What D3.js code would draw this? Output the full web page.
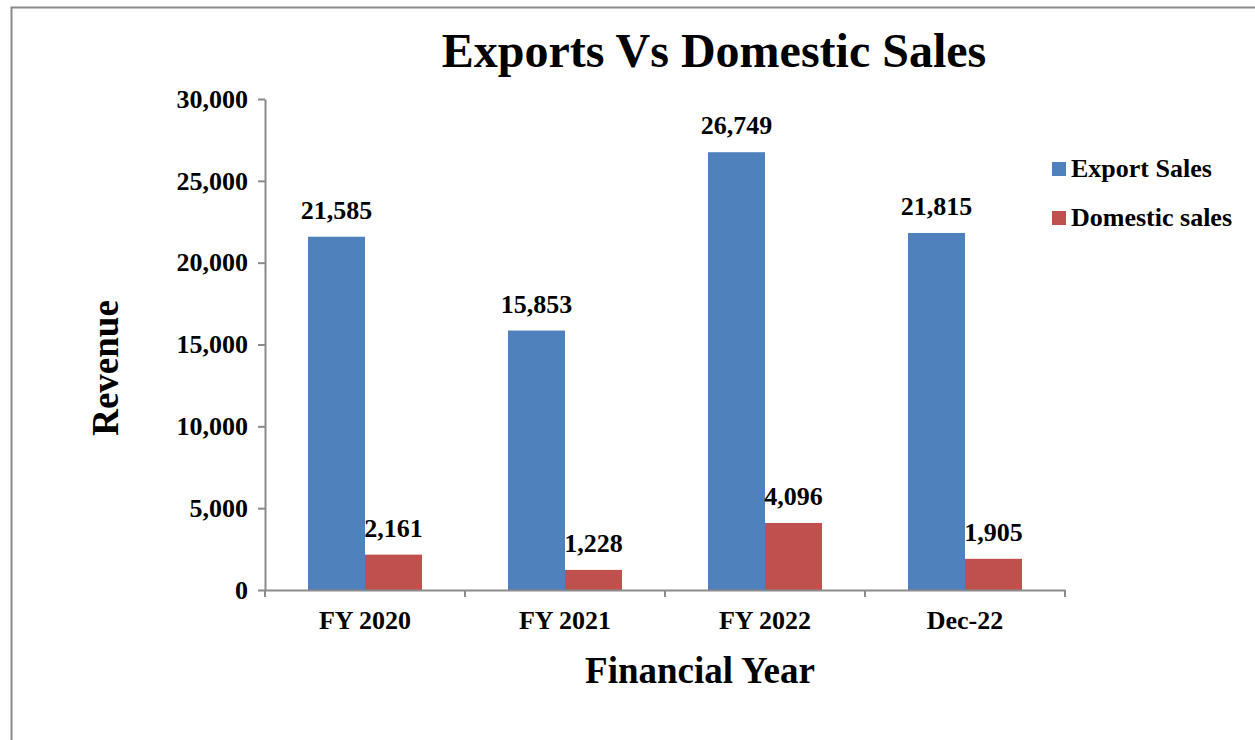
<!DOCTYPE html>
<html>
<head>
<meta charset="utf-8">
<script src="https://cdn.jsdelivr.net/npm/d3@7"></script>
<style>
body { margin: 0; background: #fff; }
text { font-family: "Liberation Serif", "Times New Roman", serif; font-weight: bold; fill: #000; }
</style>
</head>
<body>
<div id="chart"></div>
<script>
var categories = ["FY 2020", "FY 2021", "FY 2022", "Dec-22"];
var series = ["Export Sales", "Domestic sales"];
var exportSales = [21585, 15853, 26749, 21815];
var domesticSales = [2161, 1228, 4096, 1905];
var yTicks = [0, 5000, 10000, 15000, 20000, 25000, 30000];
var colors = ["#4f81bd", "#c0504d"];

var svg = d3.select("#chart")
.append("svg")
.attr("width", 1255)
.attr("height", 740)

// outer border, runs off the right and bottom edge
svg.append("path")
.attr("d", "M11.5,740 V7.5 H1255")
.style("fill", "none")
.style("stroke", "#8a8a8a")
.style("stroke-width", 2)

var x = d3.scaleBand()
.domain(categories)
.range([265, 1065])

var gap = x.bandwidth() * 0.215
var xs = d3.scaleBand()
.domain(series)
.range([gap, x.bandwidth() - gap])

var y = d3.scaleLinear()
.domain([0, 30000])
.range([590, 99])

var rows = categories.map(function(c, i){
  return {cat: c, vals: [exportSales[i], domesticSales[i]]}
})

// bars
var groups = svg.append("g")
.selectAll("g")
.data(rows)
.enter()
.append("g")
.attr("transform", function(d){ return "translate(" + x(d.cat) + ",0)" })

groups.selectAll("rect")
.data(function(d){ return d.vals.map(function(v, j){ return {s: series[j], v: v, j: j} }) })
.enter()
.append("rect")
.attr("x", function(d){ return xs(d.s) })
.attr("width", xs.bandwidth())
.attr("y", function(d){ return y(d.v) })
.attr("height", function(d){ return y(0) - y(d.v) })
.style("fill", function(d){ return colors[d.j] })

groups.selectAll("text")
.data(function(d){ return d.vals.map(function(v, j){ return {s: series[j], v: v} }) })
.enter()
.append("text")
.attr("x", function(d){ return xs(d.s) + xs.bandwidth() / 2 })
.attr("y", function(d){ return y(d.v) - 18 })
.attr("text-anchor", "middle")
.style("font-size", "26px")
.text(function(d){ return d3.format(",")(d.v) })

// y axis
var yAxis = svg.append("g")
.attr("transform", "translate(265,0)")
.call(d3.axisLeft(y).tickValues(yTicks).tickFormat(d3.format(",")).tickSize(7).tickSizeOuter(0).tickPadding(10))
yAxis.selectAll("text").style("font-size", "26px").style("font-family", null)

// x axis, labels only, ticks at the category edges
var xAxis = svg.append("g")
.attr("transform", "translate(0,590)")
.call(d3.axisBottom(x).tickSize(0).tickSizeOuter(0).tickPadding(21))
xAxis.selectAll("text").style("font-size", "26px").style("font-family", null)

var edges = categories.map(function(c){ return x(c) }).concat([x.range()[1]])
xAxis.selectAll(".edge")
.data(edges)
.enter()
.append("line")
.attr("class", "edge")
.attr("x1", function(d){ return d })
.attr("x2", function(d){ return d })
.attr("y1", 0)
.attr("y2", 7)

svg.selectAll(".domain, .tick line, .edge")
.style("stroke", "#8a8a8a")
.style("stroke-width", 2)

// titles
svg.append("text")
.attr("x", 714)
.attr("y", 67)
.attr("text-anchor", "middle")
.style("font-size", "48px")
.text("Exports Vs Domestic Sales")

svg.append("text")
.attr("x", 700)
.attr("y", 683)
.attr("text-anchor", "middle")
.style("font-size", "37px")
.text("Financial Year")

svg.append("text")
.attr("transform", "translate(118,368) rotate(-90)")
.attr("text-anchor", "middle")
.style("font-size", "37px")
.text("Revenue")

// legend
var legend = svg.append("g")
.selectAll("g")
.data(series)
.enter()
.append("g")
.attr("transform", function(d, i){ return "translate(1052," + (162 + i * 49) + ")" })

legend.append("rect")
.attr("width", 14)
.attr("height", 14)
.style("fill", function(d, i){ return colors[i] })

legend.append("text")
.attr("x", 19)
.attr("y", 15)
.style("font-size", "26px")
.text(function(d){ return d })
</script>
</body>
</html>
